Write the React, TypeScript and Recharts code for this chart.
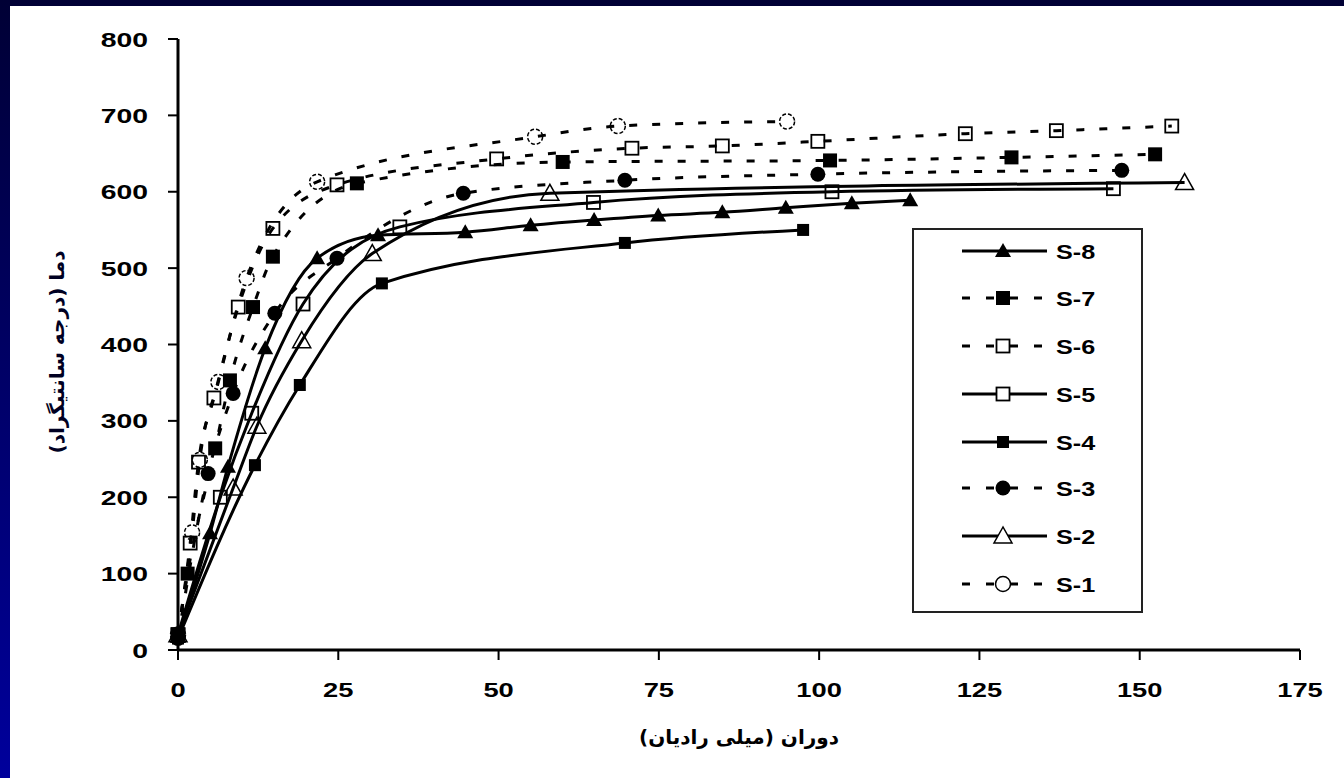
import React from 'react';
import { LineChart, Line, XAxis, YAxis, Legend } from 'recharts';

// ---- data ----
const X_TICKS = [0, 25, 50, 75, 100, 125, 150, 175];
const Y_TICKS = [0, 100, 200, 300, 400, 500, 600, 700, 800];

const X_TITLE = 'دوران (میلی رادیان)';
const Y_TITLE = 'دما (درجه سانتیگراد)';

const S1_X = [0, 2.2, 3.4, 6.3, 10.7, 21.7, 55.7, 68.6, 95];
const S1_Y = [20, 154, 249, 351, 487, 613, 672, 686, 692];

const S2_X = [0, 8.6, 12.3, 19.3, 30.3, 58, 157];
const S2_Y = [20, 212, 293, 405, 519, 598, 612];

const S3_X = [0, 4.7, 8.6, 15.1, 24.8, 44.5, 69.7, 99.8, 147.2];
const S3_Y = [15, 231, 336, 441, 513, 598, 615, 623, 628];

const S4_X = [0, 12, 19, 31.8, 69.7, 97.5];
const S4_Y = [15, 242, 347, 480, 533, 550];

const S5_X = [0, 6.6, 11.5, 19.5, 34.6, 64.8, 102, 145.9];
const S5_Y = [20, 200, 310, 453, 554, 586, 600, 604];

const S6_X = [0, 1.9, 3.2, 5.6, 9.4, 14.8, 24.8, 49.7, 70.8, 84.9, 99.8, 122.8, 137, 155];
const S6_Y = [20, 140, 246, 330, 449, 552, 609, 643, 657, 660, 666, 676, 680, 686];

const S7_X = [0, 1.5, 5.8, 8.1, 11.7, 14.8, 27.9, 60, 101.7, 130, 152.4];
const S7_Y = [20, 100, 264, 353, 449, 515, 611, 639, 641, 645, 649];

const S8_X = [0, 5, 7.8, 13.6, 21.7, 31.2, 44.8, 55, 64.9, 74.9, 84.9, 94.8, 105.1, 114.2];
const S8_Y = [17, 153, 240, 395, 513, 543, 547, 556, 563, 569, 573, 579, 585, 589];

const toPoints = (xs: number[], ys: number[]) => xs.map((x, i) => ({ x, y: ys[i] }));

type Kind = 'triFilled' | 'triOpen' | 'sqFilled' | 'sqFilledSmall' | 'sqOpen' | 'circFilled' | 'circOpen';

const SERIES: { name: string; xs: number[]; ys: number[]; dashed: boolean; kind: Kind }[] = [
  { name: 'S-1', xs: S1_X, ys: S1_Y, dashed: true, kind: 'circOpen' },
  { name: 'S-2', xs: S2_X, ys: S2_Y, dashed: false, kind: 'triOpen' },
  { name: 'S-3', xs: S3_X, ys: S3_Y, dashed: true, kind: 'circFilled' },
  { name: 'S-4', xs: S4_X, ys: S4_Y, dashed: false, kind: 'sqFilledSmall' },
  { name: 'S-5', xs: S5_X, ys: S5_Y, dashed: false, kind: 'sqOpen' },
  { name: 'S-6', xs: S6_X, ys: S6_Y, dashed: true, kind: 'sqOpen' },
  { name: 'S-7', xs: S7_X, ys: S7_Y, dashed: true, kind: 'sqFilled' },
  { name: 'S-8', xs: S8_X, ys: S8_Y, dashed: false, kind: 'triFilled' },
];

const LEGEND_ORDER = ['S-8', 'S-7', 'S-6', 'S-5', 'S-4', 'S-3', 'S-2', 'S-1'];

const FONT = "'Liberation Sans', Arial, sans-serif";
const AR_FONT = "'DejaVu Sans', sans-serif";

function Marker({ kind, cx, cy, fillOpen }: { kind: Kind; cx: number; cy: number; fillOpen: string }) {
  if (cx == null || cy == null) return null;
  switch (kind) {
    case 'triFilled':
      return <polygon points={`${cx},${cy - 8} ${cx - 8},${cy + 6} ${cx + 8},${cy + 6}`} fill="#000" />;
    case 'triOpen':
      return (
        <polygon
          points={`${cx},${cy - 9} ${cx - 9},${cy + 7} ${cx + 9},${cy + 7}`}
          fill={fillOpen}
          stroke="#000"
          strokeWidth={1.5}
        />
      );
    case 'sqFilled':
      return <rect x={cx - 7} y={cy - 7} width={14} height={14} fill="#000" />;
    case 'sqFilledSmall':
      return <rect x={cx - 6} y={cy - 6} width={12} height={12} fill="#000" />;
    case 'sqOpen':
      return <rect x={cx - 6.5} y={cy - 6.5} width={13} height={13} fill={fillOpen} stroke="#000" strokeWidth={1.8} />;
    case 'circFilled':
      return <circle cx={cx} cy={cy} r={7.5} fill="#000" />;
    case 'circOpen':
      return (
        <circle cx={cx} cy={cy} r={7.5} fill={fillOpen} stroke="#000" strokeWidth={1.5} strokeDasharray={fillOpen === 'none' ? '4 2' : undefined} />
      );
    default:
      return null;
  }
}

const XTick = (props: any) => {
  const { x, y, payload } = props;
  return (
    <g transform={`translate(${x},${y}) scale(1.3,1)`}>
      <text x={0} y={0} dy="0.71em" textAnchor="middle" fontFamily={FONT} fontWeight="bold" fontSize={21} fill="#000">
        {payload.value}
      </text>
    </g>
  );
};

const YTick = (props: any) => {
  const { x, y, payload } = props;
  return (
    <g transform={`translate(${x},${y}) scale(1.35,1)`}>
      <text x={0} y={0} dy="0.36em" textAnchor="end" fontFamily={FONT} fontWeight="bold" fontSize={21} fill="#000">
        {payload.value}
      </text>
    </g>
  );
};

const renderLegend = () => {
  const W = 229;
  const H = 383;
  const rowY = [23, 70, 118, 166, 214, 260, 308, 356];
  return (
    <svg width={W + 2} height={H + 2} style={{ display: 'block' }}>
      <rect x={1} y={1} width={W} height={H} fill="#fff" stroke="#222" strokeWidth={2} />
      {LEGEND_ORDER.map((nm, i) => {
        const s = SERIES.find((q) => q.name === nm)!;
        const y = rowY[i];
        return (
          <g key={nm}>
            <line
              x1={50}
              x2={135}
              y1={y}
              y2={y}
              stroke="#000"
              strokeWidth={3}
              strokeDasharray={s.dashed ? '8 16' : undefined}
            />
            <Marker kind={s.kind} cx={91} cy={y} fillOpen="#fff" />
            <g transform={`translate(144,${y}) scale(1.2,1)`}>
              <text x={0} y={0} dy="0.36em" fontFamily={FONT} fontWeight="bold" fontSize={21} fill="#000">
                {nm}
              </text>
            </g>
          </g>
        );
      })}
    </svg>
  );
};

export default function App() {
  return (
    <div
      style={{
        position: 'absolute',
        left: 0,
        top: 0,
        width: 1344,
        height: 778,
        background: 'linear-gradient(to bottom, #000035 0%, #00009c 100%)',
        overflow: 'hidden',
      }}
    >
      <div style={{ position: 'absolute', left: 10, top: 6, width: 1334, height: 772, background: '#fff' }} />
      <div style={{ position: 'absolute', left: 0, top: 0 }}>
        <LineChart width={1344} height={778} margin={{ top: 39, right: 44, left: 98, bottom: 68 }}>
          <XAxis
            xAxisId={0}
            type="number"
            dataKey="x"
            domain={[0, 175]}
            ticks={X_TICKS}
            interval={0}
            height={60}
            tickSize={10}
            tickMargin={22}
            tick={<XTick />}
            axisLine={{ stroke: '#000', strokeWidth: 3 }}
            tickLine={{ stroke: '#000', strokeWidth: 2 }}
            label={{
              content: () => (
                <text
                  x={739}
                  y={737}
                  dy="0.35em"
                  textAnchor="middle"
                  fontFamily={AR_FONT}
                  fontWeight="bold"
                  fontSize={20}
                  fill="#000"
                  style={{ direction: 'rtl' }}
                >
                  {X_TITLE}
                </text>
              ),
            }}
          />
          <XAxis
            xAxisId="top"
            orientation="top"
            type="number"
            dataKey="x"
            domain={[0, 175]}
            height={0}
            tick={false}
            tickLine={false}
            axisLine={{ stroke: '#000', strokeWidth: 3 }}
          />
          <YAxis
            yAxisId={0}
            type="number"
            domain={[0, 800]}
            ticks={Y_TICKS}
            interval={0}
            width={80}
            tickSize={10}
            tickMargin={20}
            tick={<YTick />}
            axisLine={{ stroke: '#000', strokeWidth: 3 }}
            tickLine={{ stroke: '#000', strokeWidth: 2 }}
            label={{
              content: () => (
                <text
                  x={0}
                  y={0}
                  transform="translate(57,352) rotate(-90)"
                  dy="0.35em"
                  textAnchor="middle"
                  fontFamily={AR_FONT}
                  fontWeight="bold"
                  fontSize={20}
                  fill="#000022"
                  style={{ direction: 'rtl' }}
                >
                  {Y_TITLE}
                </text>
              ),
            }}
          />
          <YAxis
            yAxisId="right"
            orientation="right"
            type="number"
            domain={[0, 800]}
            width={0}
            tick={false}
            tickLine={false}
            axisLine={{ stroke: '#000', strokeWidth: 3 }}
          />
          {SERIES.map((s) => (
            <Line
              key={s.name}
              name={s.name}
              data={toPoints(s.xs, s.ys)}
              dataKey="y"
              xAxisId={0}
              yAxisId={0}
              type="monotone"
              stroke="#000"
              strokeWidth={3}
              strokeDasharray={s.dashed ? '8 15' : undefined}
              isAnimationActive={false}
              dot={(p: any) => <Marker key={`${s.name}-${p.index}`} kind={s.kind} cx={p.cx} cy={p.cy} fillOpen="none" />}
              activeDot={false}
            />
          ))}
          <Legend
            layout="vertical"
            align="center"
            verticalAlign="middle"
            content={renderLegend}
            wrapperStyle={{ left: 912, top: 228, width: 231, height: 385 }}
          />
        </LineChart>
      </div>
    </div>
  );
}
